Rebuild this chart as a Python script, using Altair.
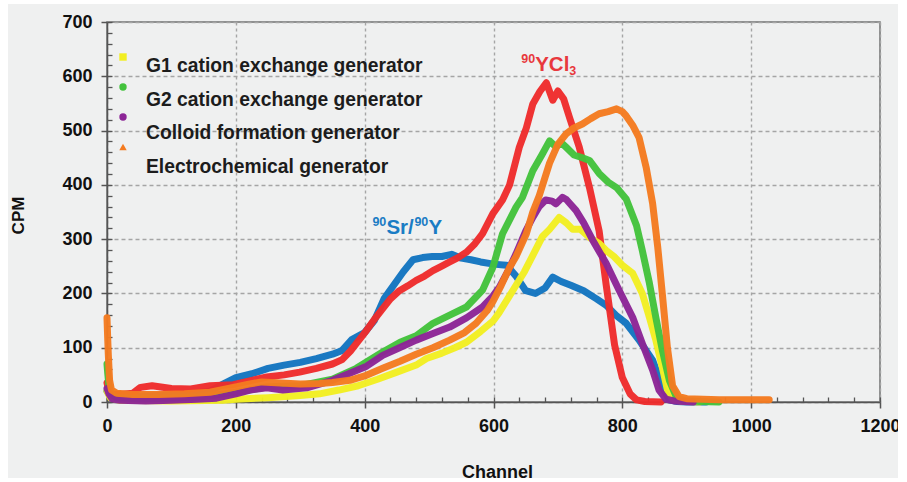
import altair as alt
import pandas as pd

# ---- spectra (channel, counts per minute) ----
sr_ch = [0, 5, 10, 40, 80, 120, 160, 180, 200, 225, 250, 275, 300, 325, 350, 365, 380, 400, 415,
         430, 445, 460, 475, 490, 505, 520, 535, 550, 565, 580, 600, 620, 635, 650, 665, 680, 692,
         705, 720, 740, 760, 775, 790, 806, 826, 847, 862, 873, 885, 900, 930]
sr_cpm = [20, 12, 10, 10, 12, 14, 20, 33, 45, 52, 62, 68, 73, 80, 88, 95, 115, 128, 150,
          190, 215, 240, 262, 266, 268, 268, 272, 265, 262, 258, 254, 252, 232, 205, 200, 210, 230,
          222, 215, 205, 190, 178, 160, 145, 114, 77, 28, 4, 1, 0, 0]

ycl_ch = [0, 3, 8, 20, 40, 52, 70, 100, 130, 160, 196, 225, 248, 275, 299, 325, 350, 365, 378, 390,
          403, 415, 428, 440, 454, 467, 480, 493, 506, 519, 532, 545, 558, 570, 583, 599, 614, 625,
          640, 651, 661, 672, 682, 692, 700, 709, 718, 733, 749, 764, 775, 788, 800, 812, 822, 835, 860]
ycl_cpm = [35, 20, 14, 14, 16, 27, 30, 25, 24, 30, 32, 40, 46, 50, 55, 62, 70, 78, 94, 112,
           132, 152, 172, 190, 205, 214, 224, 232, 242, 250, 258, 266, 276, 290, 310, 347, 372, 400,
           469, 505, 549, 572, 588, 556, 573, 558, 524, 470, 395, 315, 215, 105, 45, 15, 4, 1, 0]

g1_ch = [0, 5, 20, 100, 180, 200, 250, 300, 330, 360, 390, 420, 450, 480, 496, 520, 540, 558, 580,
         600, 609, 622, 635, 648, 661, 676, 687, 702, 713, 723, 735, 749, 764, 775, 787, 800, 816,
         831, 842, 852, 862, 870, 878, 890, 920]
g1_cpm = [20, 8, 3, 2, 3, 5, 8, 12, 15, 22, 30, 42, 55, 68, 80, 90, 100, 110, 130,
          150, 165, 190, 215, 240, 270, 305, 318, 340, 330, 318, 318, 303, 292, 279, 268, 252, 237,
          200, 156, 114, 64, 22, 5, 2, 0]

g2_ch = [0, 1, 3, 6, 15, 50, 100, 150, 200, 250, 300, 350, 387, 428, 455, 480, 506, 532, 558, 583,
         599, 614, 635, 645, 661, 675, 687, 697, 705, 713, 725, 738, 749, 764, 778, 791, 806, 822,
         831, 842, 852, 862, 873, 884, 895, 920, 950]
g2_cpm = [70, 55, 30, 15, 8, 6, 7, 10, 18, 28, 30, 42, 62, 92, 110, 122, 145, 160, 175, 206,
          248, 310, 359, 377, 426, 455, 481, 470, 478, 469, 455, 450, 445, 421, 405, 395, 374, 325,
          279, 219, 156, 96, 40, 9, 3, 1, 0]

col_ch = [0, 3, 8, 20, 60, 100, 140, 170, 200, 222, 248, 273, 310, 350, 377, 403, 428, 454, 480,
          506, 532, 558, 583, 599, 609, 622, 635, 650, 661, 671, 681, 691, 697, 707, 713, 728, 740,
          754, 775, 795, 816, 831, 847, 857, 868, 880, 910]
col_cpm = [25, 15, 6, 3, 2, 3, 5, 7, 15, 22, 26, 22, 26, 40, 53, 66, 86, 100, 114,
           126, 138, 155, 175, 195, 211, 240, 273, 315, 340, 360, 372, 370, 365, 377, 373, 353, 330,
           298, 255, 206, 156, 108, 59, 22, 5, 2, 0]

ec_ch = [0, 1, 2, 4, 7, 15, 40, 80, 120, 160, 200, 220, 240, 270, 300, 330, 350, 377, 400, 428,
         455, 480, 506, 532, 555, 573, 590, 599, 612, 625, 635, 651, 661, 671, 687, 700, 713, 725,
         738, 751, 764, 778, 791, 800, 806, 816, 826, 837, 847, 855, 862, 870, 878, 888, 900, 950,
         1000, 1028]
ec_cpm = [155, 120, 88, 40, 22, 16, 14, 14, 15, 18, 28, 33, 37, 35, 33, 34, 36, 40, 48, 62,
          75, 88, 100, 114, 128, 145, 168, 185, 215, 248, 268, 310, 350, 380, 440, 475, 494, 505,
          512, 522, 531, 535, 540, 535, 527, 510, 487, 432, 366, 285, 200, 100, 30, 10, 6, 4,
          4, 4]

# drawing order: first entry is painted first (bottom)
series = [
    ("90Sr/90Y", sr_ch, sr_cpm, "#1375c0"),
    ("90YCl3", ycl_ch, ycl_cpm, "#ee2c2c"),
    ("G1 cation exchange generator", g1_ch, g1_cpm, "#f2ee22"),
    ("G2 cation exchange generator", g2_ch, g2_cpm, "#43c23c"),
    ("Colloid formation generator", col_ch, col_cpm, "#8c2596"),
    ("Electrochemical generator", ec_ch, ec_cpm, "#f47b20"),
]

legend_entries = [
    ("G1 cation exchange generator", "#f2ee22", "square"),
    ("G2 cation exchange generator", "#43c23c", "circle"),
    ("Colloid formation generator", "#8c2596", "circle"),
    ("Electrochemical generator", "#f47b20", "triangle-up"),
]

# peak labels, split into runs of normal / raised / lowered text
note_anchor_ch = [412, 643]
note_anchor_cpm = [310, 610]
note_colors = ["#1a7cc4", "#e8383d"]
note_runs = [
    [("90", "sup", 0), ("Sr/", "main", 14), ("90", "sup", 42), ("Y", "main", 56)],
    [("90", "sup", 0), ("YCl", "main", 14), ("3", "sub", 48)],
]

FONT = "Liberation Sans"
PANEL = "#eff0f0"
W, H = 773, 380

xs = alt.Scale(domain=[0, 1200], nice=False, zero=False)
ys = alt.Scale(domain=[0, 700], nice=False)

frames = []
for name, chs, vals, color in series:
    frames.append(pd.DataFrame({"series": name, "channel": chs, "cpm": vals}))
df = pd.concat(frames, ignore_index=True)

# thin white margins around the grey figure panel
one_row = pd.DataFrame({"k": [0]})
margins = [
    alt.Chart(one_row).mark_rect(fill="white").encode(
        x=alt.value(x0), x2=alt.value(x1), y=alt.value(y0), y2=alt.value(y1))
    for (x0, x1, y0, y1) in [(-107, -99, -22, 460), (-107, 800, -22, -18),
                             (791, 800, -22, 460), (-107, 800, 456, 460)]
]

# main axes with labels, major ticks and dashed grid
major = alt.Chart(df).mark_point(opacity=0).encode(
    x=alt.X("channel:Q", scale=xs, axis=alt.Axis(
        orient="bottom", values=list(range(0, 1201, 200)), format="d", title="Channel",
        labelFont=FONT, labelFontSize=18, labelFontWeight="bold", labelColor="#111",
        labelPadding=9, tickSize=6, tickColor="#555", tickWidth=1.5,
        domainColor="#555", domainWidth=1.5,
        grid=True, gridColor="#a5a5a5", gridDash=[3, 3], gridWidth=1.4,
        titleFont=FONT, titleFontSize=18, titleFontWeight="bold", titleColor="#111",
        titleX=390, titleY=70, titleBaseline="middle", labelFlush=False)),
    y=alt.Y("cpm:Q", scale=ys, axis=alt.Axis(
        orient="left", values=list(range(0, 701, 100)), format="d", title="CPM",
        labelFont=FONT, labelFontSize=18, labelFontWeight="bold", labelColor="#111",
        labelPadding=9, tickSize=6, tickColor="#555", tickWidth=1.5,
        domainColor="#555", domainWidth=1.5,
        grid=True, gridColor="#a5a5a5", gridDash=[4, 3], gridWidth=1.4,
        titleFont=FONT, titleFontSize=17, titleFontWeight="bold", titleColor="#111",
        titleX=-89, titleY=193, titleAlign="center", titleBaseline="middle", titleAngle=270,
        labelFlush=False)),
)

# inward minor ticks
minor = alt.Chart(df).mark_point(opacity=0).encode(
    x=alt.X("channel:Q", scale=xs, axis=alt.Axis(
        orient="bottom", values=list(range(0, 1201, 40)), title=None, labels=False,
        domain=False, grid=False, ticks=True, tickSize=5, tickColor="#555", tickWidth=1.3,
        offset=-5)),
    y=alt.Y("cpm:Q", scale=ys, axis=alt.Axis(
        orient="left", values=list(range(0, 701, 20)), title=None, labels=False,
        domain=False, grid=False, ticks=True, tickSize=5, tickColor="#555", tickWidth=1.3,
        offset=-5)),
)

lines = []
for name, chs, vals, color in series:
    lines.append(
        alt.Chart(df[df["series"] == name]).mark_line(
            color=color, strokeWidth=7, strokeJoin="round", strokeCap="round", opacity=0.97
        ).encode(
            x=alt.X("channel:Q", scale=xs, axis=None),
            y=alt.Y("cpm:Q", scale=ys, axis=None),
            order="channel:Q",
        )
    )

run_style = {"main": (20.5, 0), "sup": (12.5, -8), "sub": (12.5, 4)}
note_layers = []
for ch, cpm, color, runs in zip(note_anchor_ch, note_anchor_cpm, note_colors, note_runs):
    anchor = pd.DataFrame({"channel": [ch], "cpm": [cpm]})
    for txt, kind, dx in runs:
        size, dy = run_style[kind]
        note_layers.append(
            alt.Chart(anchor).mark_text(
                font=FONT, fontSize=size, fontWeight="bold", align="left",
                baseline="alphabetic", dx=dx, dy=dy, color=color, text=txt
            ).encode(
                x=alt.X("channel:Q", scale=xs, axis=None),
                y=alt.Y("cpm:Q", scale=ys, axis=None),
            )
        )

# legend drawn inside the plot area
legend_layers = []
for i, (name, color, shape) in enumerate(legend_entries):
    one = pd.DataFrame({"label": [name]})
    legend_layers.append(
        alt.Chart(one).mark_point(shape=shape, filled=True, color=color, size=55, opacity=1).encode(
            x=alt.value(16), y=alt.value(35 + 30 * i)
        )
    )
    legend_layers.append(
        alt.Chart(one).mark_text(
            font=FONT, fontSize=19.3, fontWeight="bold", color="#1c1c1c",
            align="left", baseline="middle"
        ).encode(x=alt.value(39), y=alt.value(44 + 33.7 * i), text="label:N")
    )

chart = alt.layer(*margins, major, minor, *lines, *note_layers, *legend_layers).resolve_axis(
    x="independent", y="independent"
).properties(
    width=W, height=H,
    autosize=alt.AutoSizeParams(type="none"),
    padding={"left": 107, "top": 22, "right": 27, "bottom": 80},
    background=PANEL,
).configure_view(stroke="#707070", strokeWidth=1.5)

chart.save("out.html", embed_options={"renderer": "svg", "actions": False})
